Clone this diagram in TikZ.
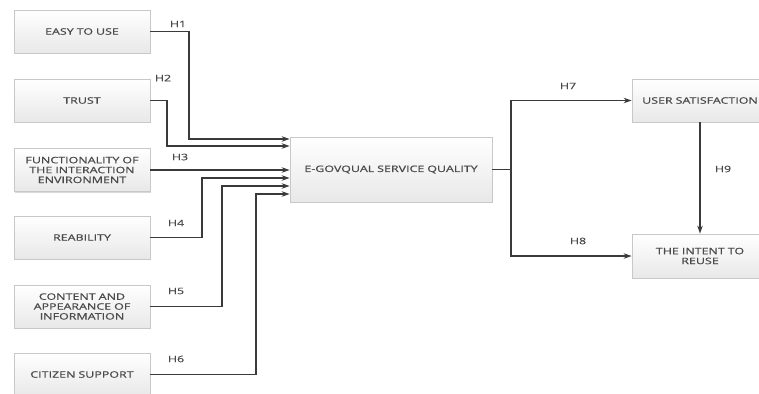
\documentclass[tikz,border=0pt]{standalone}
\usepackage{fontspec}
\setmainfont{Open Sans}[FakeStretch=1.4, FakeBold=0.7]
\usetikzlibrary{arrows.meta,shadows}
\definecolor{linec}{HTML}{3A3A3A}
\definecolor{textc}{HTML}{4A4A4A}
\definecolor{boxb}{HTML}{C8C8C8}
\tikzset{
  box/.style={draw=boxb, line width=0.8pt, top color=white, bottom color=black!9,
    minimum width=136pt, minimum height=43pt, inner sep=1pt, align=center,
    text width=134pt, font=\fontsize{8.9}{9.9}\selectfont, text=textc,
    drop shadow={shadow xshift=1pt, shadow yshift=-1pt, opacity=0.25, fill=black!60}},
  conn/.style={draw=linec, line width=1.7pt},
  arr/.style={conn, -{Stealth[length=8pt,width=5.5pt]}},
  hlab/.style={font=\fontsize{8.9}{9.9}\selectfont, text=textc, inner sep=0pt}
}
\begin{document}
\begin{tikzpicture}[x=1pt,y=-1pt]
\useasboundingbox (0,0) rectangle (759,393);
\begin{scope}
\clip (0,0) rectangle (759,393);
\node[box] (b1) at (82,31.5) {EASY TO USE};
\node[box] (b2) at (82,100.5) {TRUST};
\node[box] (b3) at (82,170) {FUNCTIONALITY OF\\THE INTERACTION\\ENVIRONMENT};
\node[box] (b4) at (82,237.5) {REABILITY};
\node[box] (b5) at (82,306.5) {CONTENT AND\\APPEARANCE OF\\INFORMATION};
\node[box] (b6) at (82,374.5) {CITIZEN SUPPORT};
\node[box, minimum width=202pt, text width=200pt, minimum height=65pt] (eg) at (391,169.5) {E-GOVQUAL SERVICE QUALITY};
\node[box] (us) at (700,100.5) {USER SATISFACTION};
\node[box, minimum height=44pt] (ir) at (700,256) {THE INTENT TO\\REUSE};

\coordinate (split) at (511,169.5);
\draw[arr] (b1.east) -| (189,139) -- (eg.west |- 0,139);
\draw[arr] (b2.east) -| (167,146) -- (eg.west |- 0,146);
\draw[arr] (b3.east) -- (eg.west |- b3.east);
\draw[arr] (b4.east) -| (202,178) -- (eg.west |- 0,178);
\draw[arr] (b5.east) -| (222,186) -- (eg.west |- 0,186);
\draw[arr] (b6.east) -| (256,194) -- (eg.west |- 0,194);
\draw[conn] (eg.east) -- (split);
\draw[arr] (split) |- (us.west);
\draw[arr] (split) |- (ir.west);
\draw[arr] (us.south) -- (ir.north);

\node[hlab] (h1) at (178,24) {H1};
\node[hlab] (h2) at (163,78) {H2};
\node[hlab] (h3) at (180,157) {H3};
\node[hlab] (h4) at (176,223) {H4};
\node[hlab] (h5) at (176,291) {H5};
\node[hlab] (h6) at (176,359) {H6};
\node[hlab] (h7) at (568,86) {H7};
\node[hlab] (h8) at (578,241) {H8};
\node[hlab] (h9) at (723,169) {H9};
\end{scope}
\end{tikzpicture}
\end{document}
